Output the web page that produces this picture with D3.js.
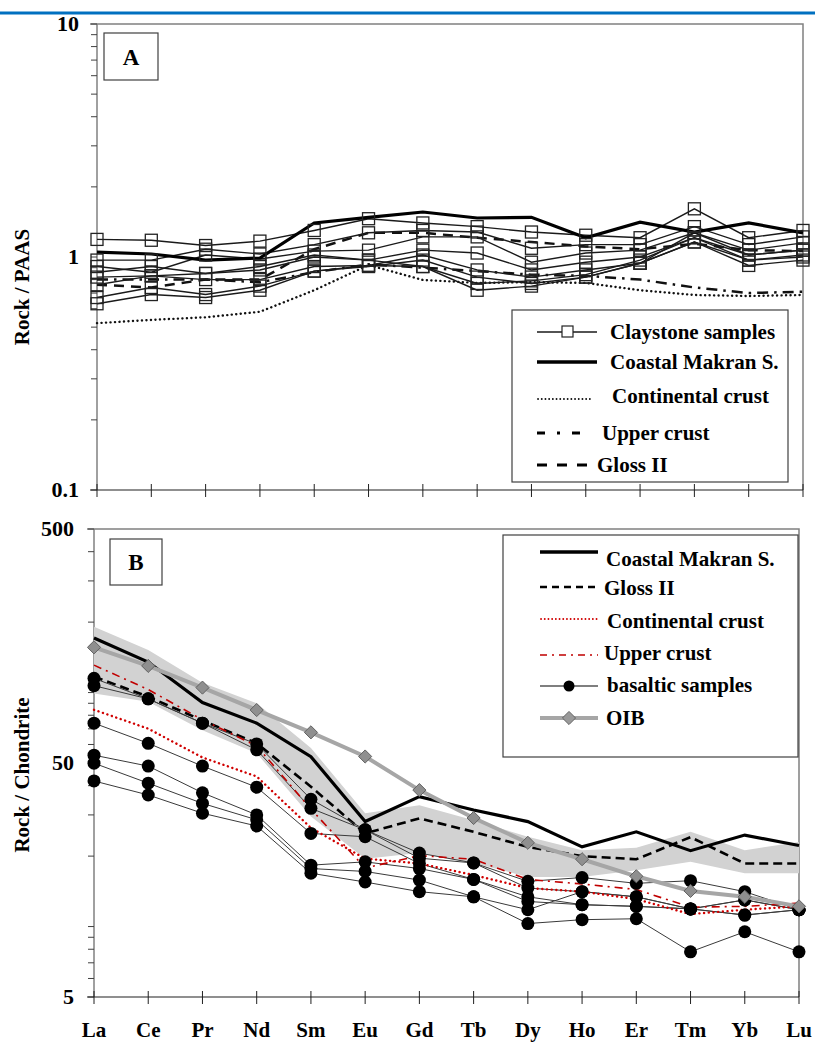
<!doctype html>
<html>
<head>
<meta charset="utf-8">
<script src="https://cdn.jsdelivr.net/npm/d3@7/dist/d3.min.js"></script>
<style>
  body { margin: 0; background: #fff; }
  svg text { font-family: "Liberation Serif", "Times New Roman", serif; font-weight: bold; fill: #000; }
</style>
</head>
<body>
<div id="chart"></div>
<script>
// REE order on the x axis
const elements = ["La", "Ce", "Pr", "Nd", "Sm", "Eu", "Gd", "Tb", "Dy", "Ho", "Er", "Tm", "Yb", "Lu"];

// ---- Panel A : Rock / PAAS ----
const claystoneA = [
  [1.19, 1.18, 1.12, 1.17, 1.30, 1.46, 1.40, 1.35, 1.28, 1.24, 1.21, 1.61, 1.21, 1.30],
  [0.97, 0.97, 1.08, 1.03, 1.13, 1.27, 1.30, 1.28, 1.09, 1.13, 1.13, 1.35, 1.13, 1.22],
  [0.91, 0.86, 1.02, 0.98, 1.06, 1.07, 1.22, 1.22, 0.95, 1.04, 1.07, 1.27, 1.07, 1.15],
  [0.86, 0.91, 0.85, 0.91, 1.02, 0.97, 1.07, 1.04, 0.88, 0.95, 1.00, 1.21, 1.02, 1.07],
  [0.82, 0.83, 0.80, 0.80, 0.91, 0.92, 1.02, 0.88, 0.82, 0.88, 0.94, 1.16, 0.97, 1.00],
  [0.76, 0.83, 0.85, 0.88, 1.00, 0.97, 0.91, 0.72, 0.75, 0.82, 0.94, 1.27, 1.02, 1.07],
  [0.67, 0.74, 0.69, 0.75, 0.87, 0.91, 0.97, 0.82, 0.77, 0.82, 0.94, 1.16, 0.92, 0.97],
  [0.63, 0.69, 0.67, 0.72, 0.87, 0.92, 0.91, 0.77, 0.79, 0.84, 0.97, 1.21, 0.97, 1.02]
];
const makranA     = [1.05, 1.03, 0.97, 0.99, 1.40, 1.48, 1.56, 1.47, 1.48, 1.21, 1.41, 1.28, 1.40, 1.27];
const contCrustA  = [0.52, 0.537, 0.551, 0.582, 0.72, 0.924, 0.797, 0.774, 0.78, 0.774, 0.72, 0.687, 0.68, 0.687];
const upperCrustA = [0.80, 0.80, 0.80, 0.78, 0.86, 0.93, 0.90, 0.87, 0.84, 0.83, 0.80, 0.74, 0.70, 0.71];
const glossA      = [0.76, 0.74, 0.80, 0.80, 1.08, 1.27, 1.27, 1.21, 1.16, 1.11, 1.08, 1.14, 1.07, 1.06];
const ticksA = [0.1, 1, 10];

// ---- Panel B : Rock / Chondrite ----
const makranB     = [171, 135, 90.6, 74, 53.2, 28.1, 35.9, 31.5, 28.1, 21.9, 25.4, 21.1, 24.6, 22.2];
const glossB      = [117, 96, 76, 60.7, 39.6, 25, 29, 25.4, 21.9, 20, 19.4, 24.1, 18.6, 18.6];
const contCrustB  = [84.4, 70.1, 52.8, 43.8, 26.4, 19.5, 18.6, 16.6, 14.6, 14.1, 13.1, 11.3, 11.8, 12.2];
const upperCrustB = [131, 103, 76.5, 59.1, 31.8, 17.8, 20.1, 19.4, 15.9, 15.2, 14.4, 12.1, 12.2, 12.6];
const oibB        = [156, 130, 105, 84.2, 67.6, 53.3, 38.3, 29.1, 22.8, 19.4, 16.4, 14.2, 13.4, 12.2];
const bandUpperB  = [191, 152, 110, 90, 58, 30.5, 33, 28.5, 24.2, 21.2, 21.7, 25.4, 21.2, 23];
const bandLowerB  = [99, 91.4, 69, 55, 29.5, 19.5, 20.6, 18.7, 16.3, 16.3, 17.4, 18.9, 16.9, 16.9];
const basaltB = [
  [115, 94, 74, 60.3, 35, 25.9, 20.6, 18.7, 15.6, 16.2, 15.3, 15.7, 14.1, 11.8],
  [107, 94, 74, 56.9, 32, 25.9, 19.6, 18.7, 14.6, 14.1, 13.4, 11.9, 13.0, 11.8],
  [74, 60.7, 48.5, 39.4, 25, 24.2, 18.6, 15.9, 13.4, 12.4, 12.2, 11.9, 11.2, 11.8],
  [54, 48.5, 37.3, 30, 18.3, 18.9, 17.7, 15.9, 12.8, 12.4, 12.2, 11.9, 11.2, 11.8],
  [49.9, 41, 33.6, 28.6, 17.7, 17.2, 15.8, 13.4, 11.8, 14.1, 13.4, 11.9, 13.0, 11.8],
  [41.9, 36.5, 30.5, 26.9, 16.9, 15.5, 14.1, 13.4, 10.3, 10.7, 10.8, 7.8, 9.5, 7.8]
];
const ticksB = [5, 50, 500];

const width = 815, height = 1044;

const svg = d3.select("#chart").append("svg")
  .attr("width", width)
  .attr("height", height);

svg.append("rect").attr("width", width).attr("height", height).attr("fill", "#fff");

// blue rule at the very top
svg.append("rect")
  .attr("x", 0).attr("y", 11.5).attr("width", width).attr("height", 3)
  .attr("fill", "#0070c0");

// scales
const xA = d3.scalePoint().domain(elements).range([97, 803]);
const yA = d3.scaleLog().domain([0.1, 10]).range([490, 24]);
const xB = d3.scalePoint().domain(elements).range([94, 799]);
const yB = d3.scaleLog().domain([5, 500]).range([997, 529]);

function frame(x, y, ticks, tickX, titleText, titleY) {
  const [x0, x1] = x.range();
  const [yb, yt] = y.range();
  const g = svg.append("g");

  // top + right border
  g.append("path")
    .attr("d", `M${x0 - 7},${yt}H${x1}V${yb}`)
    .attr("fill", "none").attr("stroke", "#808080").attr("stroke-width", 1.5);

  // left axis with log minor ticks
  g.append("line")
    .attr("x1", x0).attr("x2", x0).attr("y1", yt).attr("y2", yb)
    .attr("stroke", "#808080").attr("stroke-width", 1.5);
  g.selectAll(".ytick").data(y.ticks())
    .join("line")
      .attr("x1", x0 - 6).attr("x2", x0)
      .attr("y1", d => y(d)).attr("y2", d => y(d))
      .attr("stroke", "#404040").attr("stroke-width", 1);

  // bottom axis
  g.append("line")
    .attr("x1", x0 - 7).attr("x2", x1).attr("y1", yb).attr("y2", yb)
    .attr("stroke", "#202020").attr("stroke-width", 1.2);
  g.selectAll(".xtick").data(elements)
    .join("line")
      .attr("x1", d => x(d)).attr("x2", d => x(d))
      .attr("y1", yb - 6).attr("y2", yb + 7)
      .attr("stroke", "#202020").attr("stroke-width", 1);

  g.selectAll(".ylab").data(ticks)
    .join("text")
      .attr("x", tickX).attr("y", d => y(d))
      .attr("dy", "0.33em")
      .attr("text-anchor", "end")
      .style("font-size", "22px")
      .text(d => d);

  g.append("text")
    .attr("transform", `translate(29,${titleY}) rotate(-90)`)
    .attr("text-anchor", "middle")
    .style("font-size", "21px")
    .text(titleText);
  return g;
}

function labelBox(x, y, w, h, txt) {
  svg.append("rect")
    .attr("x", x).attr("y", y).attr("width", w).attr("height", h)
    .attr("fill", "#fff").attr("stroke", "#404040").attr("stroke-width", 1.2);
  svg.append("text")
    .attr("x", x + w / 2).attr("y", y + h / 2 + 8)
    .attr("text-anchor", "middle")
    .style("font-size", "23px")
    .text(txt);
}

function lineGen(x, y) {
  return d3.line().x((d, i) => x(elements[i])).y(d => y(d));
}

// ================= Panel A =================
frame(xA, yA, ticksA, 79, "Rock / PAAS", 287);
labelBox(104, 33, 54, 47, "A");

const lineA = lineGen(xA, yA);
const gA = svg.append("g");

gA.append("path").datum(contCrustA).attr("d", lineA)
  .attr("fill", "none").attr("stroke", "#111").attr("stroke-width", 2.4)
  .attr("stroke-dasharray", "0.1,4.4").attr("stroke-linecap", "round");

gA.append("path").datum(upperCrustA).attr("d", lineA)
  .attr("fill", "none").attr("stroke", "#111").attr("stroke-width", 2.5)
  .attr("stroke-dasharray", "11,6,2.5,6");

gA.append("path").datum(glossA).attr("d", lineA)
  .attr("fill", "none").attr("stroke", "#111").attr("stroke-width", 2.5)
  .attr("stroke-dasharray", "10,7");

claystoneA.forEach(s => {
  gA.append("path").datum(s).attr("d", lineA)
    .attr("fill", "none").attr("stroke", "#1a1a1a").attr("stroke-width", 1.4);
});

gA.append("path").datum(makranA).attr("d", lineA)
  .attr("fill", "none").attr("stroke", "#000").attr("stroke-width", 3.2);

claystoneA.forEach(s => {
  gA.selectAll(null).data(s)
    .join("rect")
      .attr("x", (d, i) => xA(elements[i]) - 6)
      .attr("y", d => yA(d) - 6)
      .attr("width", 12).attr("height", 12)
      .attr("fill", "none").attr("stroke", "#222").attr("stroke-width", 1.3);
});

// legend A
const legA = svg.append("g");
legA.append("rect").attr("x", 512).attr("y", 310).attr("width", 276).attr("height", 172)
  .attr("fill", "#fff").attr("stroke", "#404040").attr("stroke-width", 1.2);
legA.append("line").attr("x1", 537).attr("x2", 597).attr("y1", 332).attr("y2", 332)
  .attr("stroke", "#1a1a1a").attr("stroke-width", 1.4);
legA.append("rect").attr("x", 562).attr("y", 326).attr("width", 11).attr("height", 11)
  .attr("fill", "#fff").attr("stroke", "#222").attr("stroke-width", 1.2);
legA.append("line").attr("x1", 537).attr("x2", 597).attr("y1", 362).attr("y2", 362)
  .attr("stroke", "#000").attr("stroke-width", 3.5);
legA.append("line").attr("x1", 538).attr("x2", 590).attr("y1", 399).attr("y2", 399)
  .attr("stroke", "#111").attr("stroke-width", 1.8)
  .attr("stroke-dasharray", "0.1,3.6").attr("stroke-linecap", "round");
legA.append("line").attr("x1", 537).attr("x2", 580).attr("y1", 433).attr("y2", 433)
  .attr("stroke", "#000").attr("stroke-width", 2.8)
  .attr("stroke-dasharray", "8,12,3,12,8");
legA.append("line").attr("x1", 537).attr("x2", 587).attr("y1", 465).attr("y2", 465)
  .attr("stroke", "#000").attr("stroke-width", 2.8)
  .attr("stroke-dasharray", "10,10");
const legAText = [
  ["Claystone samples", 610, 339],
  ["Coastal Makran S.", 610, 369],
  ["Continental crust", 612, 403],
  ["Upper crust", 602, 440],
  ["Gloss II", 597, 472]
];
legA.selectAll("text").data(legAText)
  .join("text")
    .attr("x", d => d[1]).attr("y", d => d[2])
    .style("font-size", "21px")
    .text(d => d[0]);

// ================= Panel B =================
frame(xB, yB, ticksB, 74, "Rock / Chondrite", 775);
labelBox(110, 539, 52, 46, "B");

const lineB = lineGen(xB, yB);
const gB = svg.append("g");

const area = d3.area()
  .x((d, i) => xB(elements[i]))
  .y0(d => yB(d[0]))
  .y1(d => yB(d[1]));
gB.append("path").datum(d3.zip(bandLowerB, bandUpperB)).attr("d", area)
  .attr("fill", "#d2d2d2");

gB.append("path").datum(glossB).attr("d", lineB)
  .attr("fill", "none").attr("stroke", "#000").attr("stroke-width", 2.6)
  .attr("stroke-dasharray", "9,5");

gB.append("path").datum(makranB).attr("d", lineB)
  .attr("fill", "none").attr("stroke", "#000").attr("stroke-width", 3.2);

basaltB.forEach(s => {
  gB.append("path").datum(s).attr("d", lineB)
    .attr("fill", "none").attr("stroke", "#3a3a3a").attr("stroke-width", 1);
});

gB.append("path").datum(contCrustB).attr("d", lineB)
  .attr("fill", "none").attr("stroke", "#d00000").attr("stroke-width", 2.4)
  .attr("stroke-dasharray", "0.1,4.6").attr("stroke-linecap", "round");

gB.append("path").datum(upperCrustB).attr("d", lineB)
  .attr("fill", "none").attr("stroke", "#c00000").attr("stroke-width", 1.6)
  .attr("stroke-dasharray", "8,5,2,5");

basaltB.forEach(s => {
  gB.selectAll(null).data(s)
    .join("circle")
      .attr("cx", (d, i) => xB(elements[i]))
      .attr("cy", d => yB(d))
      .attr("r", 6.5)
      .attr("fill", "#000");
});

gB.append("path").datum(oibB).attr("d", lineB)
  .attr("fill", "none").attr("stroke", "#a6a6a6").attr("stroke-width", 4);

const diamond = d3.symbol().type(d3.symbolDiamond2).size(110);
gB.selectAll(".oib").data(oibB)
  .join("path")
    .attr("transform", (d, i) => `translate(${xB(elements[i])},${yB(d)})`)
    .attr("d", diamond)
    .attr("fill", "#8f8f8f").attr("stroke", "#626262").attr("stroke-width", 1);

// legend B
const legB = svg.append("g");
legB.append("rect").attr("x", 503).attr("y", 535).attr("width", 295).attr("height", 222)
  .attr("fill", "#fff").attr("stroke", "#404040").attr("stroke-width", 1.2);
legB.append("line").attr("x1", 540).attr("x2", 598).attr("y1", 552).attr("y2", 552)
  .attr("stroke", "#000").attr("stroke-width", 3.5);
legB.append("line").attr("x1", 540).attr("x2", 598).attr("y1", 587).attr("y2", 587)
  .attr("stroke", "#000").attr("stroke-width", 2.4)
  .attr("stroke-dasharray", "7,5");
legB.append("line").attr("x1", 541).attr("x2", 598).attr("y1", 619).attr("y2", 619)
  .attr("stroke", "#d00000").attr("stroke-width", 1.8)
  .attr("stroke-dasharray", "0.1,3.6").attr("stroke-linecap", "round");
legB.append("line").attr("x1", 540).attr("x2", 598).attr("y1", 655).attr("y2", 655)
  .attr("stroke", "#c00000").attr("stroke-width", 1.6)
  .attr("stroke-dasharray", "7,5,2,5");
legB.append("line").attr("x1", 540).attr("x2", 598).attr("y1", 686).attr("y2", 686)
  .attr("stroke", "#000").attr("stroke-width", 1.2);
legB.append("circle").attr("cx", 569).attr("cy", 686).attr("r", 5.5).attr("fill", "#000");
legB.append("line").attr("x1", 540).attr("x2", 598).attr("y1", 718).attr("y2", 718)
  .attr("stroke", "#a6a6a6").attr("stroke-width", 4);
legB.append("path").attr("transform", "translate(569,718)").attr("d", diamond)
  .attr("fill", "#9a9a9a").attr("stroke", "#626262").attr("stroke-width", 1);
const legBText = [
  ["Coastal Makran S.", 606, 566],
  ["Gloss II", 604, 595],
  ["Continental crust", 607, 628],
  ["Upper crust", 604, 660],
  ["basaltic samples", 607, 692],
  ["OIB", 606, 725]
];
legB.selectAll("text").data(legBText)
  .join("text")
    .attr("x", d => d[1]).attr("y", d => d[2])
    .style("font-size", "21px")
    .text(d => d[0]);

// element names under panel B
svg.selectAll(".elab").data(elements)
  .join("text")
    .attr("x", d => xB(d)).attr("y", 1037)
    .attr("text-anchor", "middle")
    .style("font-size", "21px")
    .text(d => d);
</script>
</body>
</html>
